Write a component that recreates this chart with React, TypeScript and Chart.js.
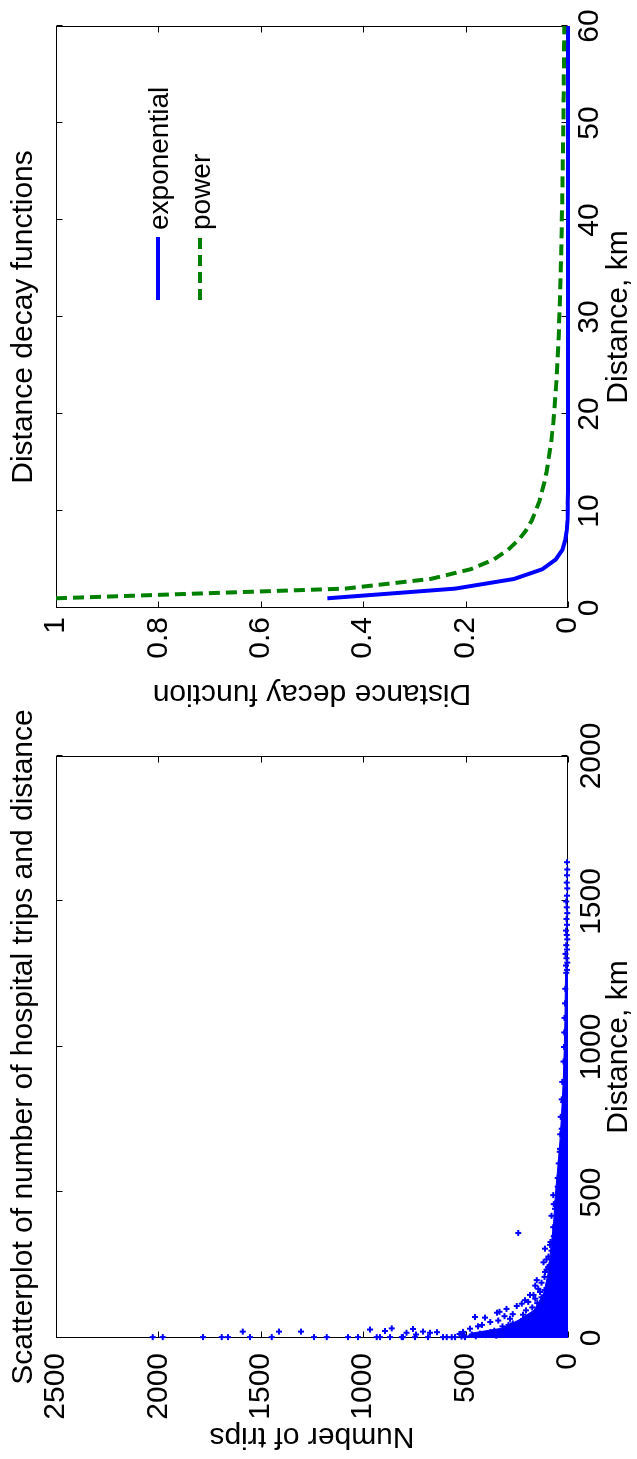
import React, { useEffect, useRef } from "react";
import { Chart, registerables } from "chart.js";

Chart.register(...registerables);

const FONT = "'Liberation Sans', Arial, Helvetica, sans-serif";
const BLUE = "#0000ff";
const GREEN = "#008000";

// ---------- Left panel: scatterplot ----------
const scatterTitle = "Scatterplot of number of hospital trips and distance";
const scatterXLabel = "Distance, km";
const scatterYLabel = "Number of trips";
const scatterXTicks = [0, 500, 1000, 1500, 2000];
const scatterYTicks = [0, 500, 1000, 1500, 2000, 2500];

// [distance km, trips] — isolated points close to distance 0
const nearAxisPoints = [
  [3, 2028], [3, 1979], [3, 1782], [3, 1691], [3, 1660], [22, 1588], [3, 1553],
  [3, 1447], [22, 1411], [22, 1304], [3, 1240], [3, 1178], [3, 1074], [3, 1025],
  [29, 967], [3, 934], [3, 918], [24, 894], [33, 861], [3, 869], [3, 812],
  [3, 806], [18, 788], [31, 757], [3, 747], [12, 742], [22, 708], [18, 674],
  [3, 684], [20, 640], [3, 610], [3, 592], [3, 568], [3, 552], [14, 530], [3, 503],
];

// [distance km, trips] — points around the edge of the dense cloud
const cloudEdgePoints = [
  [72, 454], [70, 405], [32, 479], [21, 513], [87, 347], [90, 335], [66, 283],
  [110, 250], [118, 226], [124, 194], [148, 186], [148, 169], [169, 145],
  [199, 153], [158, 137], [227, 112], [244, 96], [307, 112], [320, 88],
  [354, 63], [381, 72], [405, 55], [444, 63], [491, 47], [491, 72], [361, 243],
  [650, 39], [719, 31], [811, 23], [45, 420], [55, 380], [40, 440], [100, 300],
  [130, 210], [180, 160], [260, 120], [270, 105], [420, 80], [460, 70],
  [550, 50], [600, 45], [640, 40], [700, 38], [760, 35], [820, 30], [880, 28],
  [950, 22], [1000, 20], [1050, 18], [1100, 17], [1150, 15], [1200, 14],
  [5, 520], [8, 505], [12, 470], [6, 450], [15, 430], [10, 400], [20, 380],
  [25, 360], [8, 350], [30, 300], [40, 320], [45, 290], [50, 270], [35, 260],
  [58, 230], [48, 210], [70, 200], [75, 180], [80, 220], [95, 205], [105, 175],
  [120, 150], [135, 160], [140, 130], [165, 115], [190, 130], [210, 115],
  [235, 105], [250, 90], [280, 95], [300, 80], [330, 85], [350, 70], [380, 60],
  [470, 52], [520, 50], [75, 310], [82, 270], [60, 340],
];

// [distance km, trips] — long-distance tail
const tailPoints = [
  [1255, 8], [1265, 5], [1280, 10], [1290, 4], [1305, 7], [1320, 12], [1335, 5],
  [1350, 8], [1370, 4], [1385, 6], [1400, 10], [1420, 5], [1440, 7], [1460, 4],
  [1480, 6], [1500, 9], [1520, 5], [1545, 4], [1565, 6], [1590, 5], [1610, 4],
  [1635, 5],
];

// outline of the solid (overplotted) cloud near the origin
const cloudDistance = [0, 17, 34, 62, 96, 155, 220, 292, 400, 508, 600, 700, 800, 887, 1000, 1100, 1250, 1250];
const cloudTrips = [500, 470, 320, 240, 165, 118, 98, 86, 70, 60, 48, 37, 29, 23, 18, 15, 12, 0];

// ---------- Right panel: distance decay ----------
const decayTitle = "Distance decay functions";
const decayXLabel = "Distance, km";
const decayYLabel = "Distance decay function";
const legendLabels = ["exponential", "power"];

const decayDistance = [
  1, 2, 3, 4, 5, 6, 7, 8, 9, 10, 11, 12, 13, 14, 15, 16, 17, 18, 19, 20,
  21, 22, 23, 24, 25, 26, 27, 28, 29, 30, 31, 32, 33, 34, 35, 36, 37, 38, 39, 40,
  41, 42, 43, 44, 45, 46, 47, 48, 49, 50, 51, 52, 53, 54, 55, 56, 57, 58, 59, 60,
];
const exponentialValues = [
  0.47, 0.22, 0.105, 0.05, 0.024, 0.011, 0.0053, 0.0025, 0.0012, 0.0006,
  0.0003, 0.00013, 0, 0, 0, 0, 0, 0, 0, 0,
  0, 0, 0, 0, 0, 0, 0, 0, 0, 0,
  0, 0, 0, 0, 0, 0, 0, 0, 0, 0,
  0, 0, 0, 0, 0, 0, 0, 0, 0, 0,
  0, 0, 0, 0, 0, 0, 0, 0, 0, 0,
];
const powerValues = [
  1.0, 0.435, 0.268, 0.19, 0.145, 0.117, 0.097, 0.082, 0.071, 0.063,
  0.056, 0.051, 0.046, 0.042, 0.039, 0.036, 0.033, 0.031, 0.029, 0.0275,
  0.026, 0.0245, 0.0232, 0.022, 0.021, 0.02, 0.0191, 0.0183, 0.0176, 0.0169,
  0.0162, 0.0156, 0.015, 0.0145, 0.014, 0.0135, 0.0131, 0.0127, 0.0123, 0.012,
  0.0116, 0.0113, 0.011, 0.0107, 0.0104, 0.0101, 0.0098, 0.0096, 0.0093, 0.0091,
  0.0089, 0.0087, 0.0085, 0.0083, 0.0081, 0.0079, 0.0078, 0.0076, 0.0075, 0.0073,
];

// ---------- plugins ----------
const framePlugin = {
  id: "matlabFrame",
  beforeDatasetsDraw(chart: any) {
    const { ctx, chartArea } = chart;
    const { left, right, top, bottom } = chartArea;
    const xs = chart.scales.x;
    const ys = chart.scales.y;
    const tl = 6;
    ctx.save();
    ctx.strokeStyle = "#000";
    ctx.lineWidth = 1;
    const L = Math.round(left) + 0.5;
    const R = Math.round(right) - 0.5;
    const T = Math.round(top) + 0.5;
    const B = Math.round(bottom) - 0.5;
    ctx.strokeRect(L, T, R - L, B - T);
    ctx.beginPath();
    xs.ticks.forEach((t: any) => {
      const p = Math.round(xs.getPixelForValue(t.value)) + 0.5;
      ctx.moveTo(p, B);
      ctx.lineTo(p, B - tl);
      ctx.moveTo(p, T);
      ctx.lineTo(p, T + tl);
    });
    ys.ticks.forEach((t: any) => {
      const p = Math.round(ys.getPixelForValue(t.value)) + 0.5;
      ctx.moveTo(L, p);
      ctx.lineTo(L + tl, p);
      ctx.moveTo(R, p);
      ctx.lineTo(R - tl, p);
    });
    ctx.stroke();
    ctx.restore();
  },
};

const titlePlugin = {
  id: "matlabTitle",
  afterDraw(chart: any) {
    const text = chart.options.plugins.matlabTitle?.text;
    if (!text) return;
    const { ctx, chartArea } = chart;
    ctx.save();
    ctx.fillStyle = "#000";
    ctx.font = `30px ${FONT}`;
    ctx.textAlign = "center";
    ctx.textBaseline = "middle";
    ctx.fillText(text, (chartArea.left + chartArea.right) / 2, 24);
    ctx.restore();
  },
};

const legendPlugin = {
  id: "decayLegend",
  afterDatasetsDraw(chart: any) {
    const { ctx, chartArea } = chart;
    const x0 = chartArea.left + 308;
    const x1 = chartArea.left + 371;
    const rows = [chartArea.top + 102, chartArea.top + 144];
    ctx.save();
    legendLabels.forEach((label, i) => {
      const ds = chart.data.datasets.find((d: any) => d.label === label);
      const y = rows[i];
      ctx.beginPath();
      ctx.strokeStyle = ds.borderColor;
      ctx.lineWidth = ds.borderWidth;
      ctx.setLineDash(ds.borderDash || []);
      ctx.moveTo(x0, y);
      ctx.lineTo(x1, y);
      ctx.stroke();
      ctx.setLineDash([]);
      ctx.fillStyle = "#000";
      ctx.font = `28px ${FONT}`;
      ctx.textAlign = "left";
      ctx.textBaseline = "middle";
      ctx.fillText(label, x1 + 7, y + 2);
    });
    ctx.restore();
  },
};

const axisFont = { family: FONT, size: 30 };

function axis(min: number, max: number, step: number, tickPad: number, titleText: string, titlePad: any, fit: (s: any) => void) {
  return {
    type: "linear",
    min,
    max,
    afterFit: fit,
    grid: { display: false, drawTicks: false },
    border: { display: false },
    ticks: {
      stepSize: step,
      padding: tickPad,
      color: "#000",
      font: axisFont,
      maxRotation: 0,
      autoSkip: false,
      callback: (v: any) => String(v),
    },
    title: { display: true, text: titleText, color: "#000", font: axisFont, padding: titlePad },
  };
}

function scatterConfig(): any {
  const toXY = (arr: number[][]) => arr.map(([x, y]) => ({ x, y }));
  return {
    type: "scatter",
    data: {
      datasets: [
        {
          type: "line",
          label: "cloud",
          data: cloudDistance.map((d, i) => ({ x: d, y: cloudTrips[i] })),
          borderColor: BLUE,
          backgroundColor: BLUE,
          borderWidth: 1,
          pointRadius: 0,
          fill: "origin",
          tension: 0,
          clip: false,
        },
        {
          label: "trips",
          data: [...toXY(nearAxisPoints), ...toXY(cloudEdgePoints), ...toXY(tailPoints)],
          pointStyle: "cross",
          pointRadius: 3,
          borderWidth: 2,
          borderColor: BLUE,
          backgroundColor: BLUE,
          clip: false,
        },
      ],
    },
    options: {
      responsive: false,
      animation: false,
      events: [],
      layout: { padding: { top: 56, right: 77, bottom: 0, left: 0 } },
      plugins: {
        legend: { display: false },
        tooltip: { enabled: false },
        title: { display: false },
        matlabTitle: { text: scatterTitle },
      },
      scales: {
        x: {
          ...axis(scatterXTicks[0], scatterXTicks[scatterXTicks.length - 1], 500, 6, scatterXLabel, { top: 0, bottom: 0 }, (s: any) => { s.height = 69; }),
          position: "bottom",
        },
        y: {
          ...axis(scatterYTicks[0], scatterYTicks[scatterYTicks.length - 1], 500, 15, scatterYLabel, { top: 5, bottom: 0 }, (s: any) => { s.width = 121; }),
          position: "left",
        },
      },
    },
    plugins: [framePlugin, titlePlugin],
  };
}

function decayConfig(): any {
  return {
    type: "scatter",
    data: {
      datasets: [
        {
          type: "line",
          label: "exponential",
          data: decayDistance.map((d, i) => ({ x: d, y: exponentialValues[i] })),
          borderColor: BLUE,
          borderWidth: 4,
          pointRadius: 0,
          fill: false,
          tension: 0,
          clip: false,
          order: 1,
        },
        {
          type: "line",
          label: "power",
          data: decayDistance.map((d, i) => ({ x: d, y: powerValues[i] })),
          borderColor: GREEN,
          borderWidth: 4,
          borderDash: [11, 6],
          pointRadius: 0,
          fill: false,
          tension: 0,
          clip: false,
          order: 0,
        },
      ],
    },
    options: {
      responsive: false,
      animation: false,
      events: [],
      layout: { padding: { top: 56, right: 26, bottom: 0, left: 0 } },
      plugins: {
        legend: { display: false },
        tooltip: { enabled: false },
        title: { display: false },
        matlabTitle: { text: decayTitle },
      },
      scales: {
        x: {
          ...axis(0, 60, 10, 4, decayXLabel, { top: 0, bottom: 0 }, (s: any) => { s.height = 69; }),
          position: "bottom",
        },
        y: {
          ...axis(0, 1, 0.2, 9, decayYLabel, { top: 10, bottom: 0 }, (s: any) => { s.width = 113; }),
          position: "left",
        },
      },
    },
    plugins: [framePlugin, titlePlugin, legendPlugin],
  };
}

export default function App() {
  const leftRef = useRef<HTMLCanvasElement>(null);
  const rightRef = useRef<HTMLCanvasElement>(null);

  useEffect(() => {
    const c1 = new Chart(leftRef.current as HTMLCanvasElement, scatterConfig());
    const c2 = new Chart(rightRef.current as HTMLCanvasElement, decayConfig());
    return () => {
      c1.destroy();
      c2.destroy();
    };
  }, []);

  return (
    <div
      style={{
        position: "fixed",
        left: 0,
        top: 0,
        width: 1459,
        height: 637,
        background: "#fff",
        transformOrigin: "0 0",
        transform: "translate(0px, 1459px) rotate(-90deg)",
      }}
    >
      <canvas
        ref={leftRef}
        width={780}
        height={637}
        style={{ position: "absolute", left: 0, top: 0, width: 780, height: 637 }}
      />
      <canvas
        ref={rightRef}
        width={721}
        height={637}
        style={{ position: "absolute", left: 738, top: 0, width: 721, height: 637 }}
      />
    </div>
  );
}
